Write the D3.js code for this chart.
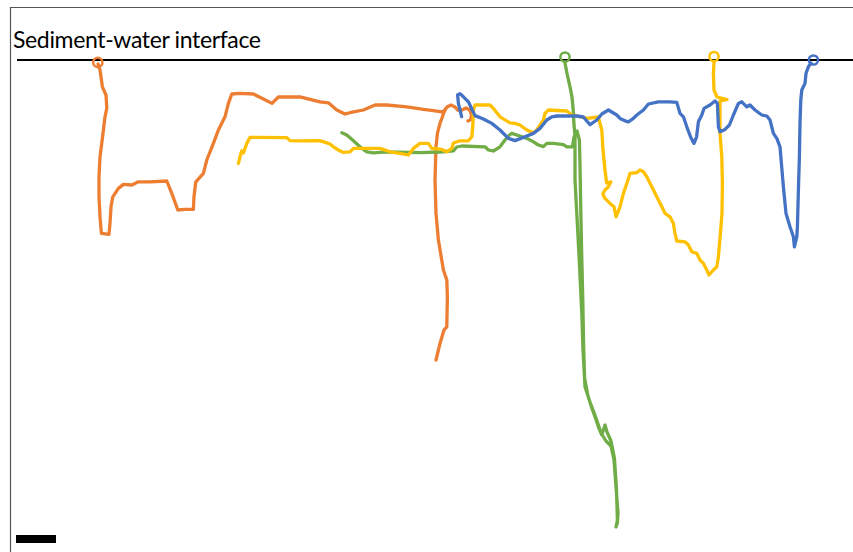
<!DOCTYPE html>
<html>
<head>
<meta charset="utf-8">
<script src="https://cdn.jsdelivr.net/npm/d3@7"></script>
<style>
  html, body { margin: 0; padding: 0; background: #fff; }
  svg { display: block; }
</style>
</head>
<body>
<svg id="chart" width="853" height="552"></svg>
<script>
// ---------- DATA (x = mm from left frame, depth = mm below sediment-water interface) ----------
const interfaceLabel = "Sediment-water interface";
const scaleBarMm = 20;

const burrowNames = ["orange", "green", "yellow", "blue"];
const burrowColors = ["#ED7D31", "#70AD47", "#FFC000", "#4472C4"];

// burrow openings at the interface
const openingX = [43.9, 277.5, 352, 401.7];
const openingDepth = [1.2, -1.5, -1.75, 0];

const orangeTrace = [
  [44,2],[45,5],[46.2,13.4],[48,17.5],[48.4,24],[47.5,28.4],[46.7,35],[45.9,41.5],[45,48.4],
  [44.5,58.4],[44.5,68.4],[45,78.4],[45.7,86.7],[49.5,87.2],[50,81.5],[50.5,73.4],[51.4,68.4],
  [54.2,64.2],[56.7,62.2],[60.9,62.5],[64.2,60.9],[70,60.9],[78.4,60.5],[80.9,66.7],[83.9,75],
  [87.5,74.7],[91.7,74.7],[92,68.4],[92.9,60.9],[96.7,56.7],[98.4,50],[101.7,41.7],[104.2,35],
  [107.5,28.4],[109.2,21.7],[110.9,17],[115,16.7],[121.7,17],[126.7,19.5],[131,21.7],[134.2,18.5],
  [140,18.5],[145,18.4],[150,19.7],[155,20.9],[159.2,21.4],[163.4,25],[167.5,27],[171.7,25.9],
  [176.7,25],[182.5,22.5],[188.4,22.5],[198.4,23.4],[206.7,24.7],[211.7,25.3],[215.9,25.9],
  [217,25.5],[218.5,23.5],[220.5,22.5],[222.5,23.5],[223.8,25],[226,25],[228,24],[229.8,25],
  [230.8,27.5],[230.3,29.8],[229,30.5],[230.3,29.8],[230.8,27.5],[229.8,25],[228,24],[226,25],
  [223.8,25],[222.5,23.5],[220.5,22.5],[218.5,23.5],[217,26],[216,29],[215,31.7],[213.7,36.7],
  [213,43.4],[212.5,60],[213,76.7],[214.2,90],[216.7,105],[218.4,110],[218.7,118.4],[218.4,133.4],
  [217,135],[215,141.7],[213,150]
];

const yellowTrace = [
  [352,1],[351.7,6.7],[352,15],[353.5,18.5],[358.5,19.8],[355,20.5],[355,27.5],[355,36.7],
  [355.9,48.4],[356.2,61.7],[356,76.7],[355,89],[354.2,98.4],[353.4,103.4],[351.7,105],[349.5,107.5],
  [348.4,105],[346.7,101.7],[345,100],[343.4,96.7],[340.9,95.9],[339.2,92.5],[337.5,90.9],[333.4,90.5],
  [332.5,86.7],[331.7,81.7],[330,78.4],[327.5,76.7],[325.9,73.4],[323.4,68.4],[320.9,63.4],[318.4,58.4],
  [316.7,55.9],[315,55],[313.4,56.3],[310,56.7],[308.4,61.7],[306.7,66.7],[305,73.4],[303,78.4],
  [302,73.4],[300,71.7],[297.5,69.2],[296.4,67],[297.5,65],[299.2,63.4],[300.4,60.9],[298.3,61.5],
  [297.5,55],[296.5,45],[295.9,35],[294.8,31],[294.2,28.5],[288.4,29.2],[286.7,28.7],[280.9,27.5],
  [278.4,25.5],[269.2,25],[267.5,26.7],[266.7,30],[263.4,35],[261.7,36.4],[258.4,35],[255,32.5],
  [252.5,31.7],[250,31.4],[245,28.4],[241.7,24.2],[240,22.5],[232.5,22.5],[231.7,25],[231.5,31.5],
  [230.9,38.4],[229.2,40.4],[225,40.4],[221.7,41.5],[220.9,44.2],[218.4,45.9],[215.9,44.7],[210.9,44.2],
  [209.2,41.7],[205,41.7],[201.7,44.2],[199.2,47.5],[195,46.7],[190,45.9],[185,44.2],[178.4,44.2],
  [171.7,44.2],[170,45.9],[166.7,46.2],[164.2,45],[161.7,43.4],[160,42],[155,40.3],[145,40.4],
  [140,40.3],[138.4,38.8],[120,38.7],[118.4,41.7],[116.7,46.5],[115.9,45.4],[115,48.4],[114.2,51.7]
];

const greenTrace = [
  [277.5,1.5],[278.5,6.7],[280,13.4],[281,18.5],[281.7,26],[282,32.5],[282.5,37.5],
  [282.5,45],[282.5,60],[283.4,76.7],[284.7,101.7],[285.9,126.7],[286.5,145],[287.5,163.4],[290,171],
  [293,179],[295.5,186.5],[298,190.5],[300.5,193],[302,200],[303,213.5],[304,226.5],[303.7,231.5],
  [303,233.5],[303.7,230],[303.2,213.5],[302.2,199],[300.5,190.5],[298.5,186],[297.5,182.5],
  [296.7,185],[295.9,187.5],[294.2,183.4],[292.5,178.4],[290.9,174],[289,168],[287.3,159],
  [286.8,142.5],[286.4,120],[285.8,95],[285.3,70],[285,52.5],[284.7,40],[283.5,35.5],[282,38.5],
  [281.2,43.4],[278.4,43.4],[276.7,42.3],[271.7,41.7],[268.4,41.7],[266.7,43.3],[264.2,42.5],
  [261.7,40.9],[258.4,39.2],[253.4,37.5],[250.9,36.7],[249.7,37.5],[247.5,40],[245,43.4],[241.7,45.5],
  [239.2,45],[237.5,43.4],[225.9,43],[223.4,43.5],[221.7,45.4],[215,46],[205,46.3],[188.4,45.9],
  [181.7,46.4],[178.4,45.9],[175,43.4],[171.7,40.4],[168.4,37.5],[165.9,36.4]
];

const blueTrace = [
  [400.5,1.5],[399.2,3.4],[398,6.7],[397.5,11.7],[395.9,15],[395.4,20],[395,31.7],[394.7,48.4],
  [394.2,65],[393.7,83.4],[393.4,88.4],[392.2,93.4],[391.7,88.4],[390,83.4],[388,76.7],[386.7,63.4],
  [385,43.4],[383.4,39.2],[381.7,36.7],[380,30],[378.4,28],[375.9,27.5],[372.5,25],[370,22.5],
  [368.4,23.4],[365.9,20.9],[364.2,21.7],[361.7,27.5],[359.7,32.5],[357.5,34.7],[355,35.9],[354.2,33.4],
  [353.7,21.7],[352.5,20.5],[350,22.5],[347,24.2],[345.9,27.5],[344.2,30.9],[343.3,38.4],[342,41.7],
  [340.5,39],[338.4,33.4],[336.7,28.4],[335,26.7],[333.4,21.2],[330,20.9],[324.2,20.9],[319.2,22],
  [316.7,25],[313.4,27.5],[311.7,29.2],[309.2,30.9],[307.5,30.4],[305,29.2],[303.4,27.5],[299.2,25],
  [295.9,27],[293.4,30],[290,32.3],[288.4,30.5],[286.7,28.5],[283.4,28],[273.4,28],[270.9,28.4],
  [268.4,30],[265,34.2],[261.7,36.7],[257.5,38.4],[252.5,40.3],[249.2,39.2],[245,35],[240.9,31.7],
  [236.7,29.5],[232.5,27.8],[230.9,24.5],[229.2,20.9],[226.7,18.4],[225,16.8],[223.8,17.5],
  [224.2,21.7],[225,25],[225.8,28.3]
];

const traces = [orangeTrace, greenTrace, yellowTrace, blueTrace];

// ---------- DRAW ----------
const W = 853, H = 552;
const svg = d3.select("#chart");

const frameLeft = 10, frameTop = 7, interfaceY = 60;
const pxPerMm = 2;
const x = d3.scaleLinear().domain([0, (W - frameLeft) / pxPerMm]).range([frameLeft, W]);
const y = d3.scaleLinear().domain([0, (H - interfaceY) / pxPerMm]).range([interfaceY, H]);

// frame (top and left edges)
svg.append("line").attr("x1", frameLeft).attr("x2", W).attr("y1", frameTop + 0.5).attr("y2", frameTop + 0.5)
  .attr("stroke", "#555").attr("stroke-width", 1.2);
svg.append("line").attr("x1", frameLeft + 0.5).attr("x2", frameLeft + 0.5).attr("y1", frameTop).attr("y2", H)
  .attr("stroke", "#555").attr("stroke-width", 1.2);

// label
svg.append("text").attr("x", 13).attr("y", 48)
  .attr("font-family", "Lato, 'Liberation Sans', Arial, sans-serif").attr("font-size", 23)
  .attr("textLength", 248).attr("lengthAdjust", "spacing")
  .attr("fill", "#000").text(interfaceLabel);

// sediment-water interface
svg.append("line").attr("x1", x(3.5)).attr("x2", W).attr("y1", y(0)).attr("y2", y(0))
  .attr("stroke", "#000").attr("stroke-width", 2);

// burrow traces
const line = d3.line().x(d => x(d[0])).y(d => y(d[1])).curve(d3.curveLinear);
svg.append("g").selectAll("path").data(traces).join("path")
  .attr("d", line)
  .attr("fill", "none")
  .attr("stroke", (d, i) => burrowColors[i])
  .attr("stroke-width", 3.3)
  .attr("stroke-linejoin", "round")
  .attr("stroke-linecap", "round");

// openings
svg.append("g").selectAll("circle").data(openingX).join("circle")
  .attr("cx", (d) => x(d))
  .attr("cy", (d, i) => y(openingDepth[i]))
  .attr("r", 4.6)
  .attr("fill", "none")
  .attr("stroke", (d, i) => burrowColors[i])
  .attr("stroke-width", 2.5);

// scale bar
svg.append("rect").attr("x", x(3)).attr("y", 535)
  .attr("width", x(3 + scaleBarMm) - x(3)).attr("height", 8).attr("fill", "#000");
</script>
</body>
</html>
